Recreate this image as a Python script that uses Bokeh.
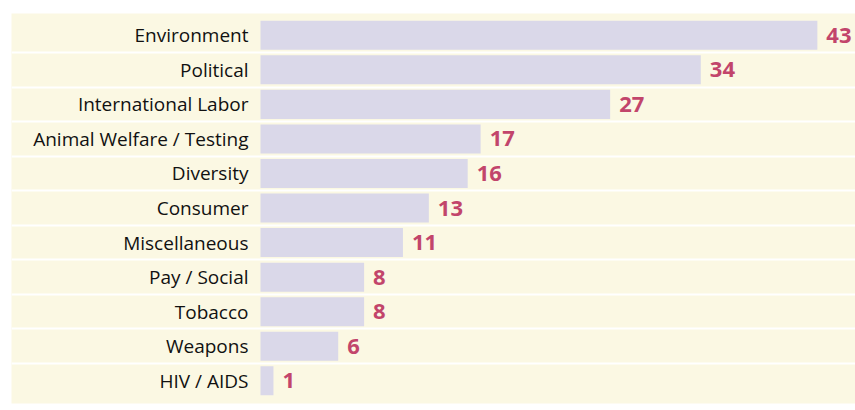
from bokeh.plotting import figure
from bokeh.models import Range1d, Grid, FixedTicker, ColumnDataSource
from bokeh.core.properties import value
from bokeh.embed import file_html
from bokeh.resources import INLINE

categories = ["Environment", "Political", "International Labor", "Animal Welfare / Testing",
              "Diversity", "Consumer", "Miscellaneous", "Pay / Social", "Tobacco",
              "Weapons", "HIV / AIDS"]
counts = [43, 34, 27, 17, 16, 13, 11, 8, 8, 6, 1]
value_labels = [str(v) for v in counts]

n = len(categories)
rows = list(range(n))

BG = "#fbf8e3"
BAR = "#dad8e9"
VAL = "#c2456b"
FONT = "Open Sans"

src = ColumnDataSource(dict(y=rows, cat=categories, v=counts, lab=value_labels,
                            zero=[0] * n))

scale = 12.95  # px per unit
left_px = 260 - 11
x_start = -left_px / scale
x_end = (855 - 260) / scale

p = figure(width=855, height=410, output_backend="svg", toolbar_location=None,
           x_range=Range1d(x_start, x_end),
           y_range=Range1d(n - 0.5 + 0.156, -0.5 - 0.13),
           x_axis_location=None, y_axis_location=None,
           min_border_left=11, min_border_right=0, min_border_top=13, min_border_bottom=7)
p.grid.visible = False
p.outline_line_color = None
p.background_fill_color = BG
p.border_fill_color = "white"

sep = Grid(dimension=1, ticker=FixedTicker(ticks=[i + 0.5 for i in rows[:-1]]),
           grid_line_color="white", grid_line_width=2)
p.add_layout(sep)

p.hbar(y="y", left="zero", right="v", height=0.84, source=src, fill_color=BAR, line_color=None)

p.text(x="v", y="y", text="lab", source=src, x_offset=9, text_baseline="middle",
       text_align="left", text_font=value(FONT), text_font_style="bold",
       text_font_size="22px", text_color=VAL)

p.text(x="zero", y="y", text="cat", source=src, x_offset=-12, text_baseline="middle",
       text_align="right", text_font=value(FONT), text_font_size="19px",
       text_color="#111111")

open("out.html", "w").write(file_html(p, INLINE))
